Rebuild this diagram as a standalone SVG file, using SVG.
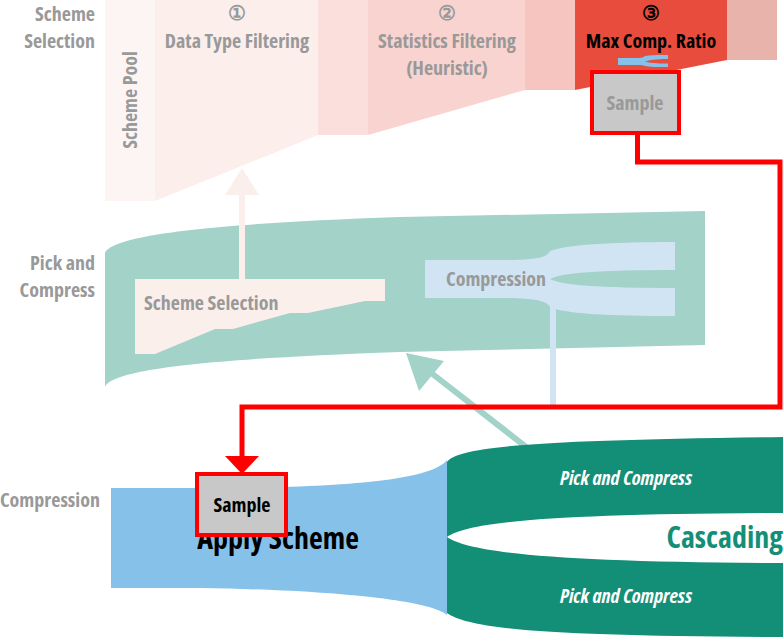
<svg xmlns="http://www.w3.org/2000/svg" width="783" height="638" viewBox="0 0 783 638">
<style>
text{font-family:"Open Sans","Noto Sans","Liberation Sans",sans-serif;font-weight:bold;font-stretch:75%;}
.lbl{fill:#999999;font-size:20px;}
.gr{fill:#999999;font-size:20px;}
.ctr{text-anchor:middle;}
.end{text-anchor:end;}
.box{fill:#c8c8c8;stroke:#ff0000;stroke-width:4;}
</style>
<rect width="783" height="638" fill="#ffffff"/>

<!-- Row labels -->
<g id="row-labels">
<text class="lbl end" x="95" y="21">Scheme</text>
<text class="lbl end" x="95" y="48">Selection</text>
<text class="lbl end" x="95" y="270">Pick and</text>
<text class="lbl end" x="95" y="297">Compress</text>
<text class="lbl end" x="100" y="507">Compression</text>
</g>

<!-- Scheme selection stages -->
<g id="scheme-pool">
<rect x="105" y="0" width="50" height="201" fill="#fdf5f3"/>
<text class="gr ctr" transform="translate(137,100) rotate(-90)">Scheme Pool</text>
</g>
<g id="data-type-filtering">
<polygon points="155,0 318,0 318,135 155,201" fill="#fbeeeb"/>
<text class="gr ctr" x="237" y="20">①</text>
<text class="gr ctr" x="237" y="48">Data Type Filtering</text>
</g>
<g id="gap-1"><rect x="318" y="0" width="50" height="135" fill="#fadfdc"/></g>
<g id="statistics-filtering">
<polygon points="368,0 525,0 525,90 368,135" fill="#f9d3cf"/>
<text class="gr ctr" x="447" y="20">②</text>
<text class="gr ctr" x="447" y="48">Statistics Filtering</text>
<text class="gr ctr" x="447" y="75">(Heuristic)</text>
</g>
<g id="gap-2"><rect x="525" y="0" width="50" height="90" fill="#f6c5bf"/></g>
<g id="max-comp-ratio">
<polygon points="575,0 727,0 727,60 575,90" fill="#e74c3c"/>
<text class="ctr" x="651" y="20" font-size="20" fill="#000000">③</text>
<text class="ctr" x="651" y="48" font-size="20" fill="#000000">Max Comp. Ratio</text>
<path d="M618,58 L637,58 C642,58 644,57 645,56 C650,55 656,55 668,55 L668,59 C656,59 650,60 645,61.5 C650,63 656,63.5 668,63.5 L668,67 C656,67 650,67 645,66 C644,65.5 642,65 637,65 L618,65 Z" fill="#85c1e9"/>
</g>
<g id="gap-3"><rect x="727" y="0" width="50" height="60" fill="#e8b3ab"/></g>

<!-- Pick and Compress band -->
<g id="pick-and-compress">
<path d="M105,253 C112,236 200,224 400,217 L705,211 L705,345 L400,352 C200,359 112,370 105,387 Z" fill="#a2d2c8"/>
</g>
<g id="scheme-selection">
<polygon points="135,279 385,279 385,301 365,301 308,313 290,313 233,329 215,329 155,354 135,354" fill="#fbefec"/>
<text class="gr" x="144" y="310">Scheme Selection</text>
</g>
<g id="compression-fork">
<path d="M425,260 L500,260 C535,260 547,258 550,251 C565,245 610,242 675,242 L675,270 C600,270 560,273 550,279 C560,285 600,288 675,288 L675,316 C610,316 565,314 550,307 C547,301 535,298 500,298 L425,298 Z" fill="#d0e4f4"/>
<text class="gr" x="446" y="286">Compression</text>
</g>

<!-- Connectors -->
<g id="connectors">
<line x1="242" y1="279" x2="242" y2="190" stroke="#fbefec" stroke-width="6"/>
<polygon points="242,168 259,195 225,195" fill="#fbefec"/>
<line x1="553" y1="305" x2="553" y2="407" stroke="#d0e4f4" stroke-width="6"/>
<line x1="530" y1="450" x2="430" y2="372" stroke="#a2d2c8" stroke-width="6"/>
<polygon points="406,353 444,361 419,391" fill="#a2d2c8"/>
</g>

<!-- Compression row -->
<g id="apply-scheme">
<path d="M111,488 L200,488 C330,488 430,482 447,460 L447,615 C430,600 330,590 200,588 L111,588 Z" fill="#85c1e9"/>
<text class="ctr" x="278" y="549" font-size="30" fill="#000000">Apply Scheme</text>
</g>
<g id="cascading">
<path d="M447,462 C458,446 540,440 783,437 L783,513 C560,514 470,521 447,537 Z" fill="#148f77"/>
<path d="M447,537 C470,553 560,562 783,563 L783,637 C560,636 470,630 447,613 Z" fill="#148f77"/>
<text class="ctr" x="626" y="485" font-size="20" font-style="italic" fill="#ffffff">Pick and Compress</text>
<text class="ctr" x="626" y="603" font-size="20" font-style="italic" fill="#ffffff">Pick and Compress</text>
<text class="end" x="783" y="548" font-size="30" fill="#148f77">Cascading</text>
</g>

<g id="sample-link">
<path d="M637.5,135 V162 H780 V407 H242 V458" fill="none" stroke="#ff0000" stroke-width="5"/>
<polygon points="225,456 259,456 242,474" fill="#ff0000"/>
</g>

<g id="sample-top">
<rect class="box" x="592" y="72" width="87" height="61"/>
<text class="gr ctr" x="635" y="110">Sample</text>
</g>
<g id="sample-bottom">
<rect class="box" x="197" y="474" width="89" height="61"/>
<text class="ctr" x="242" y="512" font-size="20" fill="#000000">Sample</text>
</g>
</svg>
